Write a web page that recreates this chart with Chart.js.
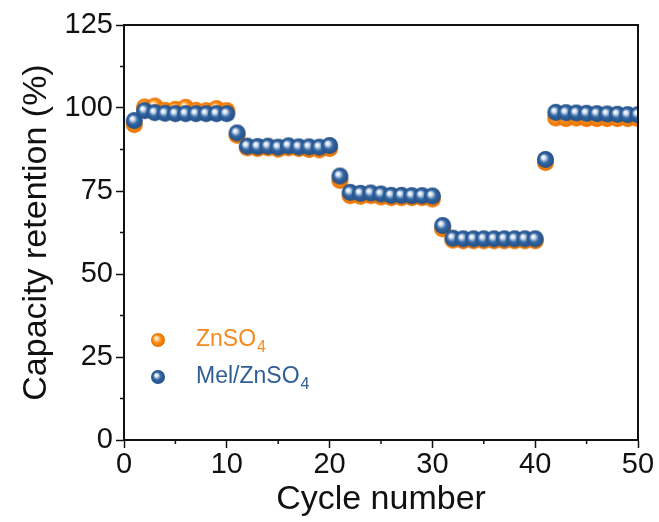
<!DOCTYPE html>
<html>
<head>
<meta charset="utf-8">
<title>Capacity retention</title>
<script src="https://cdn.jsdelivr.net/npm/chart.js@4.4.1/dist/chart.umd.min.js"></script>
<style>
  html, body { margin: 0; padding: 0; background: #fff; }
  #wrap { width: 659px; height: 522px; }
</style>
</head>
<body>
<div id="wrap"><canvas id="chart" width="659" height="522"></canvas></div>
<script>
const cycles = [1, 2, 3, 4, 5, 6, 7, 8, 9, 10,
                11, 12, 13, 14, 15, 16, 17, 18, 19, 20,
                21, 22, 23, 24, 25, 26, 27, 28, 29, 30,
                31, 32, 33, 34, 35, 36, 37, 38, 39, 40,
                41, 42, 43, 44, 45, 46, 47, 48, 49, 50];

const znso4 = [95.0, 100.3, 100.6, 99.3, 99.6, 100.2, 99.3, 99.2, 99.8, 99.2,
               91.8, 88.0, 87.8, 88.0, 87.6, 88.0, 87.8, 87.5, 87.4, 87.8,
               78.2, 73.6, 73.4, 73.6, 73.2, 73.0, 73.0, 73.0, 73.0, 72.6,
               63.6, 60.2, 60.0, 60.0, 60.0, 60.0, 60.0, 60.0, 60.0, 60.0,
               83.6, 97.0, 96.8, 97.0, 96.8, 96.8, 96.8, 96.8, 96.8, 96.8];

const melZnso4 = [96.2, 99.2, 98.6, 98.4, 98.3, 98.3, 98.3, 98.3, 98.3, 98.3,
                  92.5, 88.5, 88.4, 88.5, 88.2, 88.6, 88.3, 88.3, 88.2, 88.7,
                  79.5, 74.6, 74.3, 74.4, 74.1, 73.7, 73.7, 73.6, 73.6, 73.5,
                  64.6, 60.8, 60.6, 60.6, 60.6, 60.6, 60.6, 60.6, 60.6, 60.6,
                  84.5, 98.7, 98.6, 98.5, 98.4, 98.3, 98.2, 98.1, 98.0, 98.0];

const xTicks = [0, 10, 20, 30, 40, 50];
const yTicks = [0, 25, 50, 75, 100, 125];

const FONT = "'Liberation Sans', Arial, sans-serif";
const ORANGE = { light: '#ffe2bc', base: '#ff8c10', dark: '#e47000', text: '#f5891f' };
const BLUE = { light: '#e4ecf6', base: '#3266a4', dark: '#234e84', text: '#2f5e96' };

// shaded ball used as the point style
function sphere(c, r) {
  const size = r * 2 + 2;
  const cv = document.createElement('canvas');
  cv.width = size;
  cv.height = size;
  const g = cv.getContext('2d');
  const cx = size / 2, cy = size / 2;
  const grad = g.createRadialGradient(cx - r * 0.3, cy - r * 0.3, 0, cx, cy, r);
  grad.addColorStop(0, '#ffffff');
  grad.addColorStop(0.2, c.light);
  grad.addColorStop(0.55, c.base);
  grad.addColorStop(1, c.dark);
  g.fillStyle = grad;
  g.beginPath();
  g.arc(cx, cy, r, 0, Math.PI * 2);
  g.fill();
  return cv;
}

const orangeBall = sphere(ORANGE, 8.5);
const blueBall = sphere(BLUE, 8.5);
const orangeKey = sphere(ORANGE, 7);
const blueKey = sphere(BLUE, 7);

// box frame, minor ticks and the legend with subscripts
const decor = {
  id: 'decor',
  afterDraw(chart) {
    const { ctx, chartArea: a, scales } = chart;
    ctx.save();
    ctx.strokeStyle = '#111';
    ctx.lineWidth = 2;
    ctx.beginPath();
    ctx.moveTo(a.left, a.top);
    ctx.lineTo(a.right, a.top);
    ctx.lineTo(a.right, a.bottom);
    ctx.stroke();

    ctx.lineWidth = 1.5;
    ctx.beginPath();
    for (let i = 0; i < xTicks.length - 1; i++) {
      const px = scales.x.getPixelForValue((xTicks[i] + xTicks[i + 1]) / 2);
      ctx.moveTo(px, a.bottom);
      ctx.lineTo(px, a.bottom + 4);
    }
    for (let i = 0; i < yTicks.length - 1; i++) {
      const py = scales.y.getPixelForValue((yTicks[i] + yTicks[i + 1]) / 2);
      ctx.moveTo(a.left, py);
      ctx.lineTo(a.left - 4, py);
    }
    ctx.stroke();

    const items = [
      { img: orangeKey, main: 'ZnSO', sub: '4', color: ORANGE.text },
      { img: blueKey, main: 'Mel/ZnSO', sub: '4', color: BLUE.text }
    ];
    ctx.textBaseline = 'middle';
    items.forEach((it, i) => {
      const y = a.top + 315 + i * 37;
      const x = a.left + 34;
      ctx.drawImage(it.img, x - it.img.width / 2, y - it.img.height / 2);
      ctx.fillStyle = it.color;
      ctx.font = '23px ' + FONT;
      ctx.fillText(it.main, x + 38, y);
      const w = ctx.measureText(it.main).width;
      ctx.font = '16px ' + FONT;
      ctx.fillText(it.sub, x + 39 + w, y + 8);
    });
    ctx.restore();
  }
};

new Chart(document.getElementById('chart'), {
  type: 'scatter',
  data: {
    datasets: [
      {
        label: 'ZnSO4',
        data: cycles.map((c, i) => ({ x: c, y: znso4[i] })),
        pointStyle: orangeBall,
        order: 1
      },
      {
        label: 'Mel/ZnSO4',
        data: cycles.map((c, i) => ({ x: c, y: melZnso4[i] })),
        pointStyle: blueBall,
        order: 0
      }
    ]
  },
  options: {
    responsive: false,
    animation: false,
    layout: { padding: { top: 25, right: 21, left: 0, bottom: 0 } },
    plugins: {
      legend: { display: false },
      tooltip: { enabled: false }
    },
    scales: {
      x: {
        type: 'linear',
        min: 0,
        max: 50,
        afterFit: (s) => { s.height = 82; },
        afterBuildTicks: (s) => { s.ticks = xTicks.map(v => ({ value: v })); },
        ticks: { font: { family: FONT, size: 29 }, color: '#111', padding: 0, maxRotation: 0 },
        grid: { drawOnChartArea: false, tickLength: 8, tickWidth: 1.5, tickColor: '#111' },
        border: { display: true, color: '#111', width: 2 },
        title: {
          display: true,
          text: 'Cycle number',
          font: { family: FONT, size: 34, lineHeight: 1 },
          color: '#111',
          padding: { top: 0, bottom: 5 }
        }
      },
      y: {
        min: 0,
        max: 125,
        afterFit: (s) => { s.width = 124; },
        afterBuildTicks: (s) => { s.ticks = yTicks.map(v => ({ value: v })); },
        ticks: { font: { family: FONT, size: 29 }, color: '#111', padding: 3 },
        grid: { drawOnChartArea: false, tickLength: 8, tickWidth: 1.5, tickColor: '#111' },
        border: { display: true, color: '#111', width: 2 },
        title: {
          display: true,
          text: 'Capacity retention (%)',
          font: { family: FONT, size: 34, lineHeight: 1 },
          color: '#111',
          padding: { top: 20, bottom: 0 }
        }
      }
    }
  },
  plugins: [decor]
});
</script>
</body>
</html>
